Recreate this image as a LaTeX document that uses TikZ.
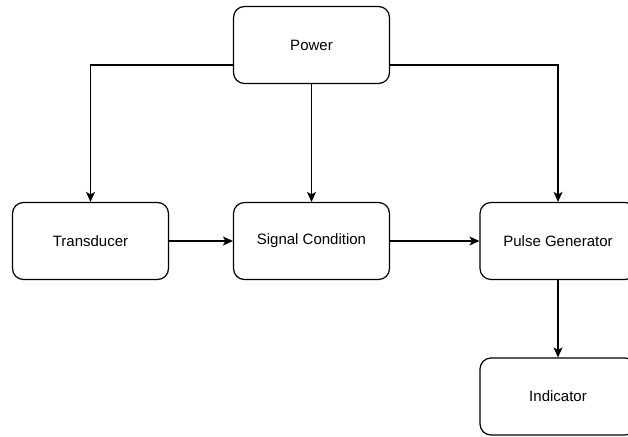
\documentclass[tikz,border=0pt]{standalone}
\usepackage{fontspec}
\setmainfont{Liberation Sans}
\usetikzlibrary{arrows.meta}

\begin{document}
\begin{tikzpicture}[x=1pt,y=-1pt,
    block/.style={draw, line width=1.2pt, rounded corners=11pt,
      minimum width=156pt, minimum height=77pt,
      font=\fontsize{15}{18}\selectfont},
    link/.style={line width=1.2pt, -{Stealth[length=10pt,width=9pt,inset=2.5pt]}}]
      \useasboundingbox (0,0) rectangle (628,436);
      \clip (0,0) rectangle (628,436);
      \node[block] (pw)  at (311.5, 45)  {Power};
      \node[block] (td)  at ( 90.5,241)  {Transducer};
      \node[block] (sc)  at (311.5,241)  {Signal Condition};
      \node[block] (pg)  at (558,  241)  {Pulse Generator};
      \node[block] (ind) at (558,  396.5){Indicator};
      \draw[link] ([yshift=-20pt]pw.west) -| (td.north);
      \draw[link] ([yshift=-20pt]pw.east) -| (pg.north);
      \draw[link] (pw) -- (sc);
      \draw[link] (td) -- (sc);
      \draw[link] (sc) -- (pg);
      \draw[link] (pg) -- (ind);
\end{tikzpicture}
\end{document}
